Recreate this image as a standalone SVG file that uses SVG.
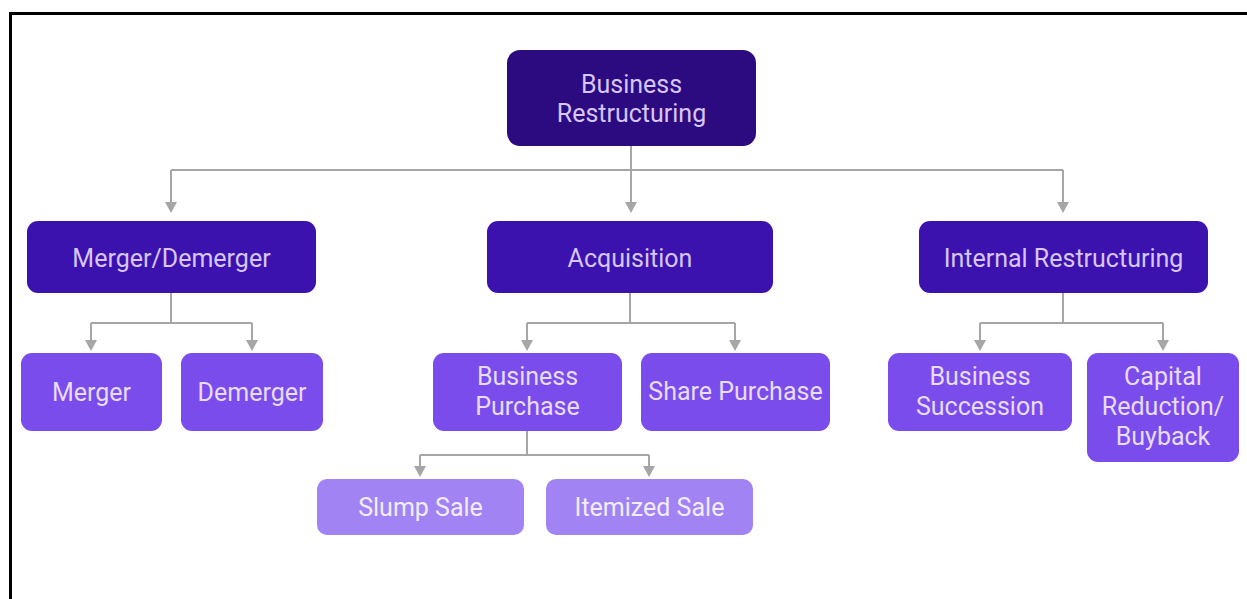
<svg xmlns="http://www.w3.org/2000/svg" width="1247" height="599" viewBox="0 0 1247 599">
<style>
text{font-family:Roboto,"Liberation Sans",sans-serif;font-size:25px;font-weight:400;text-anchor:middle}
.l1 rect{fill:#2c0b80}
.l2 rect{fill:#3b12ae}
.l3 rect{fill:#7a4cec}
.l4 rect{fill:#a283f4}
.l1 text,.l2 text{fill:#d7c6ff}
.l3 text{fill:#e8dcff}
.l4 text{fill:#f2ecff}
.c{fill:none;stroke:#a6a6a6;stroke-width:2}
.ah{fill:#a6a6a6}
</style>
<rect width="1247" height="599" fill="#fff"/>
<path d="M10.5,599 V13.5 H1247" fill="none" stroke="#000" stroke-width="3"/>
<g id="connectors">
<path class="c" d="M631,146 V170"/>
<path class="c" d="M171,170 H1063"/>
<path class="c" d="M171,170 V204"/>
<path class="c" d="M631,170 V204"/>
<path class="c" d="M1063,170 V204"/>
<path class="c" d="M171,293 V323 M91,323 H252 M91,323 V342 M252,323 V342"/>
<path class="c" d="M630,293 V323 M527,323 H735 M527,323 V342 M735,323 V342"/>
<path class="c" d="M527,431 V455 M420,455 H649 M420,455 V468 M649,455 V468"/>
<path class="c" d="M1063,293 V323 M980,323 H1163 M980,323 V342 M1163,323 V342"/>
<g class="ah">
<path d="M165,202 h12 l-6,11 z"/>
<path d="M625,202 h12 l-6,11 z"/>
<path d="M1057,202 h12 l-6,11 z"/>
<path d="M85,340 h12 l-6,11 z"/>
<path d="M246,340 h12 l-6,11 z"/>
<path d="M521,340 h12 l-6,11 z"/>
<path d="M729,340 h12 l-6,11 z"/>
<path d="M974,340 h12 l-6,11 z"/>
<path d="M1157,340 h12 l-6,11 z"/>
<path d="M414,466 h12 l-6,11 z"/>
<path d="M643,466 h12 l-6,11 z"/>
</g>
</g>
<g id="business-restructuring" class="l1">
<rect x="507" y="50" width="249" height="96" rx="13"/>
<text x="631.5" y="93">Business</text>
<text x="631.5" y="122">Restructuring</text>
</g>
<g id="merger-demerger" class="l2">
<rect x="27" y="221" width="289" height="72" rx="11"/>
<text x="171.5" y="267">Merger/Demerger</text>
</g>
<g id="acquisition" class="l2">
<rect x="487" y="221" width="286" height="72" rx="11"/>
<text x="630" y="267">Acquisition</text>
</g>
<g id="internal-restructuring" class="l2">
<rect x="919" y="221" width="289" height="72" rx="11"/>
<text x="1063.5" y="267">Internal Restructuring</text>
</g>
<g id="merger" class="l3">
<rect x="21" y="353" width="141" height="78" rx="11"/>
<text x="91.5" y="401">Merger</text>
</g>
<g id="demerger" class="l3">
<rect x="181" y="353" width="142" height="78" rx="11"/>
<text x="252" y="401">Demerger</text>
</g>
<g id="business-purchase" class="l3">
<rect x="433" y="353" width="189" height="78" rx="11"/>
<text x="527.5" y="385">Business</text>
<text x="527.5" y="415">Purchase</text>
</g>
<g id="share-purchase" class="l3">
<rect x="641" y="353" width="189" height="78" rx="11"/>
<text x="735.5" y="400">Share Purchase</text>
</g>
<g id="business-succession" class="l3">
<rect x="888" y="353" width="184" height="78" rx="11"/>
<text x="980" y="385">Business</text>
<text x="980" y="415">Succession</text>
</g>
<g id="capital-reduction" class="l3">
<rect x="1087" y="353" width="152" height="109" rx="11"/>
<text x="1163" y="385">Capital</text>
<text x="1163" y="415">Reduction/</text>
<text x="1163" y="445">Buyback</text>
</g>
<g id="slump-sale" class="l4">
<rect x="317" y="479" width="207" height="56" rx="10"/>
<text x="420.5" y="516">Slump Sale</text>
</g>
<g id="itemized-sale" class="l4">
<rect x="546" y="479" width="207" height="56" rx="10"/>
<text x="649.5" y="516">Itemized Sale</text>
</g>
</svg>
